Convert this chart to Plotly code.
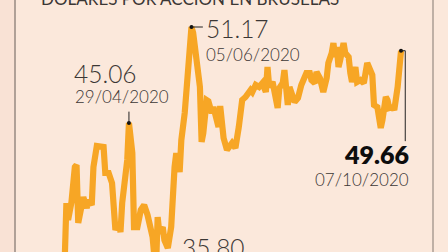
import plotly.graph_objects as go

# ---- data ----
dates = ["2020-03-22","2020-03-23","2020-03-24","2020-03-26","2020-03-28","2020-03-29","2020-03-30",
         "2020-04-02","2020-04-04","2020-04-05","2020-04-07","2020-04-08","2020-04-10","2020-04-13",
         "2020-04-14","2020-04-15","2020-04-17","2020-04-19","2020-04-21","2020-04-23","2020-04-24",
         "2020-04-25","2020-04-28","2020-04-29","2020-05-01","2020-05-02","2020-05-04","2020-05-06",
         "2020-05-08","2020-05-10","2020-05-13","2020-05-14","2020-05-15","2020-05-16","2020-05-17",
         "2020-05-19","2020-05-20","2020-05-22","2020-05-24","2020-05-26","2020-05-27","2020-05-29",
         "2020-05-30","2020-06-01","2020-06-03","2020-06-04","2020-06-05","2020-06-06","2020-06-09",
         "2020-06-10","2020-06-11","2020-06-12","2020-06-14","2020-06-15","2020-06-17","2020-06-18",
         "2020-06-21","2020-06-22","2020-06-24","2020-06-26","2020-06-29","2020-07-01","2020-07-03",
         "2020-07-05","2020-07-07","2020-07-10","2020-07-11","2020-07-13","2020-07-15","2020-07-17",
         "2020-07-19","2020-07-20","2020-07-21","2020-07-23","2020-07-26","2020-07-27","2020-07-29",
         "2020-07-30","2020-08-01","2020-08-02","2020-08-03","2020-08-05","2020-08-07","2020-08-09",
         "2020-08-12","2020-08-14","2020-08-15","2020-08-17","2020-08-18","2020-08-20","2020-08-22",
         "2020-08-24","2020-08-25","2020-08-27","2020-08-28","2020-08-29","2020-08-30","2020-08-31",
         "2020-09-01","2020-09-03","2020-09-04","2020-09-06","2020-09-07","2020-09-08","2020-09-10",
         "2020-09-11","2020-09-13","2020-09-15","2020-09-16","2020-09-17","2020-09-20","2020-09-21",
         "2020-09-23","2020-09-24","2020-09-25","2020-09-26","2020-09-28","2020-09-29","2020-09-30",
         "2020-10-02","2020-10-03","2020-10-05","2020-10-06","2020-10-07"]

prices = [36.30, 39.96, 38.88, 40.02, 42.25, 42.38, 38.69,
          40.34, 39.64, 40.15, 39.83, 42.25, 43.59, 43.59,
          43.53, 41.87, 41.87, 41.23, 38.24, 38.69, 38.11,
          39.96, 42.70, 45.06, 43.14, 38.43, 38.43, 39.51,
          39.83, 39.20, 37.79, 36.60, 35.80, 39.07, 38.05,
          38.43, 37.60, 37.09, 38.43, 42.25, 43.14, 41.93,
          43.97, 45.69, 48.43, 48.70, 51.17, 50.79, 48.24,
          47.35, 43.85, 44.42, 46.52, 46.45, 45.69, 46.07,
          44.80, 46.14, 44.10, 43.34, 43.78, 43.46, 44.80,
          46.52, 46.71, 47.16, 47.03, 47.48, 47.35, 47.60,
          47.03, 48.62, 47.35, 47.67, 46.01, 47.28, 47.60,
          48.43, 46.20, 47.35, 47.03, 46.39, 46.65, 47.48,
          48.24, 48.24, 47.79, 47.60, 48.30, 47.92, 47.03,
          47.92, 48.88, 49.51, 50.15, 49.26, 49.90, 48.62,
          49.07, 50.15, 49.51, 49.26, 48.24, 47.67, 48.62,
          47.67, 47.79, 47.60, 48.24, 48.88, 48.11, 46.20,
          46.07, 45.44, 44.74, 45.25, 46.71, 46.52, 46.01,
          46.07, 45.88, 47.35, 49.07, 49.66]

title_text = "DÓLARES POR ACCIÓN EN BRUSELAS"
mark_dates = ["2020-04-29", "2020-06-05", "2020-10-07"]
mark_values = [45.06, 51.17, 49.66]
mark_labels = ["29/04/2020", "05/06/2020", "07/10/2020"]
low_value = 35.80

W, H = 448, 252
BG = "#fbe8db"
ORANGE = "#f7a625"
TXT = "#3b3735"
FONT = "Lato"

def px(x):
    return x / W

def py(y):
    return 1 - y / H

fig = go.Figure()
fig.add_trace(go.Scatter(x=dates, y=prices, mode="lines",
                         line=dict(color=ORANGE, width=6.2), hoverinfo="skip"))
fig.add_trace(go.Scatter(x=mark_dates, y=mark_values, mode="markers",
                         marker=dict(color="#111111", size=4), hoverinfo="skip"))

shapes = [
    dict(type="rect", xref="paper", yref="paper", x0=0, x1=px(15), y0=0, y1=1,
         fillcolor="#f9e2d5", line=dict(width=0), layer="below"),
    dict(type="line", xref="paper", yref="paper", x0=px(15), x1=px(15), y0=0, y1=1,
         line=dict(color="#978a82", width=1.5)),
    dict(type="line", xref="paper", yref="paper", x0=px(433), x1=px(433), y0=0, y1=1,
         line=dict(color="#978a82", width=1.2)),
    # leaders
    dict(type="line", xref="x", yref="y", x0=mark_dates[0], x1=mark_dates[0],
         y0=mark_values[0], y1=45.78, line=dict(color="#222222", width=1)),
    dict(type="line", xref="x", yref="y", x0=mark_dates[1], x1="2020-06-11 18:00",
         y0=mark_values[1], y1=mark_values[1], line=dict(color="#222222", width=1)),
    dict(type="line", xref="x", yref="y", x0=mark_dates[2], x1="2020-10-09 12:00",
         y0=mark_values[2], y1=mark_values[2], line=dict(color="#222222", width=1)),
    dict(type="line", xref="x", yref="y", x0="2020-10-09 12:00", x1="2020-10-09 12:00",
         y0=mark_values[2], y1=43.9, line=dict(color="#222222", width=1)),
]

def ann(text, x, y, size, xanchor="left", color=TXT, weight=300):
    return dict(text=text, xref="paper", yref="paper",
                x=px(x), y=py(y), xanchor=xanchor, yanchor="middle", showarrow=False,
                font=dict(family=FONT, size=size, color=color, weight=weight), borderpad=0)

annotations = [
    ann(title_text, 40, -2, 17, weight=400),
    ann(f"{mark_values[0]:.2f}", 73, 73.5, 24.5),
    ann(mark_labels[0], 74, 96.5, 17),
    ann(f"{mark_values[1]:.2f}", 205, 28.5, 24.5),
    ann(mark_labels[1], 205, 54, 17),
    ann(f"{mark_values[2]:.2f}", 410, 154, 25, xanchor="right", color="#0d0d0d", weight=800),
    ann(mark_labels[2], 410, 179.5, 17, xanchor="right"),
    ann(f"{low_value:.2f}", 181, 247, 24.5),
]

fig.update_layout(
    width=W, height=H, margin=dict(l=0, r=0, t=0, b=0),
    paper_bgcolor=BG, plot_bgcolor="rgba(0,0,0,0)", showlegend=False,
    xaxis=dict(type="date", range=["2020-02-12 17:00", "2020-11-03 19:00"],
               visible=False, showgrid=False, zeroline=False, fixedrange=True),
    yaxis=dict(range=[36.84, 52.89], visible=False, showgrid=False, zeroline=False,
               fixedrange=True),
    shapes=shapes, annotations=annotations,
)

fig.write_html("out.html", config=dict(displayModeBar=False))
